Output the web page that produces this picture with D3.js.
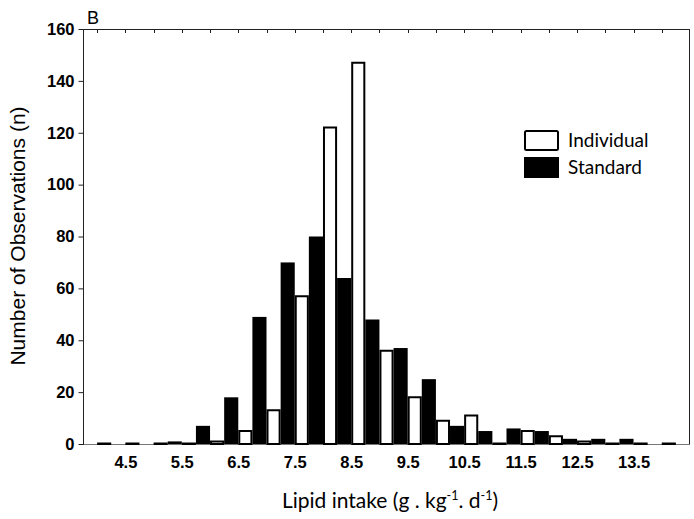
<!DOCTYPE html>
<html><head><meta charset="utf-8">
<script src="https://cdn.jsdelivr.net/npm/d3@7"></script>
<style>
body{margin:0;background:#fff;}
svg{display:block;}
</style></head>
<body>
<svg id="chart" width="694" height="519"></svg>
<script>
const binCenters = [4.0,4.5,5.0,5.5,6.0,6.5,7.0,7.5,8.0,8.5,9.0,9.5,10.0,10.5,11.0,11.5,12.0,12.5,13.0,13.5,14.0];
const standard   = [0,0,0,1,7,18,49,70,80,64,48,37,25,7,5,6,5,2,2,2,0];
const individual = [0,0,0,0,1,5,13,57,122,147,36,18,9,11,0,5,3,1,0,0,0];
const xTickLabels = [4.5,5.5,6.5,7.5,8.5,9.5,10.5,11.5,12.5,13.5];
const yTicks = [0,20,40,60,80,100,120,140,160];
const topTicks = binCenters;
const legendItems = ["Individual","Standard"];

const svg = d3.select("#chart");
const L=83, R=690, T=29, B=444;
const x = d3.scaleLinear().domain([3.75,14.5]).range([L,R]);
const y = d3.scaleLinear().domain([0,160]).range([B,T]);
const half = 0.25;

// frame (drawn under bars)
const frame = svg.append("g").attr("stroke","#222").attr("stroke-width",1).attr("fill","none");
frame.append("line").attr("x1",L).attr("x2",R).attr("y1",T+0.5).attr("y2",T+0.5);
frame.append("line").attr("x1",R-0.5).attr("x2",R-0.5).attr("y1",T).attr("y2",B);
frame.append("line").attr("x1",L).attr("x2",R).attr("y1",B+0.5).attr("y2",B+0.5).attr("stroke","#777");
frame.append("line").attr("x1",L+0.5).attr("x2",L+0.5).attr("y1",T).attr("y2",B+1);
frame.selectAll("line.tt").data(topTicks).join("line").attr("class","tt")
  .attr("x1",(d)=>Math.round(x(d))+0.5).attr("x2",(d)=>Math.round(x(d))+0.5)
  .attr("y1",T).attr("y2",T+4);

// bars: standard (black) left half, individual (white) right half
svg.append("g").selectAll("rect").data(binCenters).join("rect")
  .attr("x", (c)=>x(c-half)).attr("width",(c)=>x(c)-x(c-half))
  .attr("y",(c,i)=>y(standard[i])).attr("height",(c,i)=>B-y(standard[i]))
  .attr("fill","#000");
svg.append("g").selectAll("path").data(binCenters).join("path")
  .attr("d",(c,i)=>{
    const x0 = x(c)+1, x1 = x(c+half)-1, yt = Math.min(y(individual[i]), B-0.5);
    return `M${x0},${B}V${yt}H${x1}V${B}Z`;
  })
  .attr("fill","#fff").attr("stroke","#000").attr("stroke-width",2);

// y axis
const yAxis = svg.append("g").attr("transform",`translate(${L+0.5},0)`)
  .call(d3.axisLeft(y).tickValues(yTicks).tickSize(5).tickPadding(4).tickFormat(d3.format("d")));
yAxis.select(".domain").remove();
yAxis.selectAll("line").attr("stroke","#222");
yAxis.selectAll("text").attr("font-family","Liberation Sans, Arial, sans-serif")
  .attr("font-size",16.5).attr("font-weight","bold").attr("fill","#000");

// x axis labels
const xAxis = svg.append("g").attr("transform",`translate(0,${B})`)
  .call(d3.axisBottom(x).tickValues(xTickLabels).tickSize(0).tickPadding(12).tickFormat(d3.format(".1f")));
xAxis.select(".domain").remove();
xAxis.selectAll("text").attr("font-family","Liberation Sans, Arial, sans-serif")
  .attr("font-size",16.5).attr("font-weight","bold").attr("fill","#000");

// panel letter
svg.append("text").attr("x",87).attr("y",24).text("B")
  .attr("font-family","Liberation Sans, Arial, sans-serif").attr("font-size",18).attr("fill","#000");

// y title
svg.append("text").attr("transform","translate(25,236) rotate(-90)")
  .attr("text-anchor","middle").text("Number of Observations (n)")
  .attr("font-family","Liberation Sans, Arial, sans-serif").attr("font-size",21).attr("fill","#000");

// x title
const xt = svg.append("text").attr("x",390).attr("y",508).attr("text-anchor","middle")
  .attr("font-family","Lato, 'Open Sans', sans-serif").attr("font-size",21).attr("fill","#000");
xt.append("tspan").text("Lipid intake (g . kg");
xt.append("tspan").text("-1").attr("font-size",12.5).attr("dy",-8);
xt.append("tspan").text(". d").attr("dy",8);
xt.append("tspan").text("-1").attr("font-size",12.5).attr("dy",-8);
xt.append("tspan").text(")").attr("dy",8);

// legend
const lg = svg.append("g").selectAll("g").data(legendItems).join("g")
  .attr("transform",(d,i)=>`translate(524,${130+i*27})`);
lg.append("rect").attr("x",(d,i)=>i===0?1:0).attr("y",(d,i)=>i===0?1:0)
  .attr("width",(d,i)=>i===0?33:35).attr("height",(d,i)=>i===0?19:21)
  .attr("fill",(d,i)=>i===0?"#fff":"#000").attr("stroke","#000").attr("stroke-width",(d,i)=>i===0?2:0)
  .attr("rx",(d,i)=>i===0?1.5:0);
lg.append("text").attr("x",44).attr("y",17).text((d)=>d)
  .attr("font-family","Lato, 'Open Sans', sans-serif").attr("font-size",19).attr("fill","#000");
</script>
</body></html>
